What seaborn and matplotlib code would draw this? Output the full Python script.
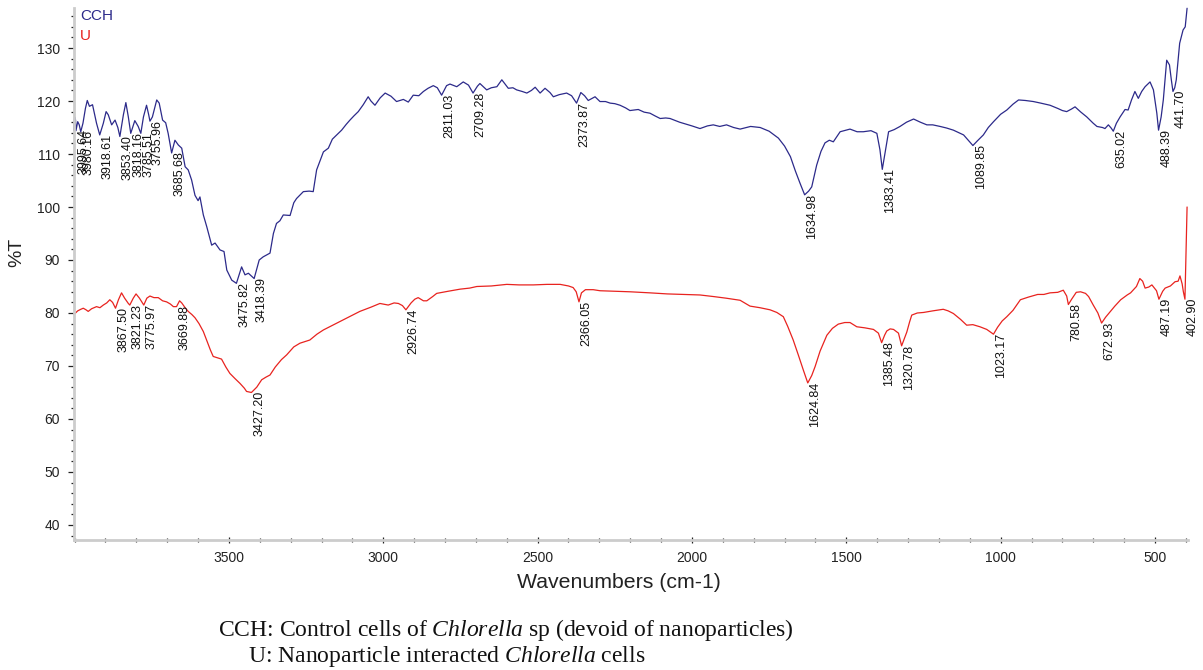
import numpy as np
import pandas as pd
import matplotlib
matplotlib.use("Agg")
import matplotlib.pyplot as plt
from matplotlib.ticker import MultipleLocator
import seaborn as sns

# FTIR transmittance spectra (%T vs wavenumber, cm-1)
cch_wn = [4003, 4000, 3997, 3995.64, 3990, 3985, 3980.16, 3973, 3965, 3959, 3952, 3942, 3929,
          3918.61, 3907, 3898, 3891, 3880, 3869, 3860, 3853.40, 3842, 3834, 3826, 3818.16, 3805,
          3794, 3785.51, 3777, 3767, 3760, 3755.96, 3748, 3734, 3726, 3715, 3705, 3697, 3685.68,
          3675, 3664, 3653, 3642, 3632, 3621, 3610, 3600, 3594, 3583, 3572, 3556, 3545, 3529,
          3516, 3507, 3491, 3475.82, 3459, 3448, 3437, 3418.39, 3402, 3389, 3367, 3356, 3346,
          3335, 3324, 3302, 3290, 3281, 3259, 3240, 3227, 3216, 3194, 3178, 3165, 3151, 3135,
          3120, 3108, 3095, 3081, 3065, 3049, 3040, 3027, 3010, 2994, 2975, 2957, 2935, 2919,
          2903, 2885, 2870, 2855, 2838, 2825, 2811.03, 2795, 2784, 2762, 2741, 2724, 2709.28,
          2695, 2687, 2665, 2650, 2632, 2616, 2595, 2580, 2568, 2550, 2535, 2520, 2508, 2492,
          2476, 2460, 2449, 2430, 2406, 2390, 2373.87, 2360, 2348, 2336, 2314, 2298, 2280, 2265,
          2250, 2233, 2215, 2201, 2174, 2155, 2136, 2120, 2103, 2085, 2071, 2040, 2000, 1974,
          1950, 1931, 1910, 1888, 1865, 1844, 1810, 1779, 1750, 1720, 1700, 1681, 1665, 1650,
          1634.98, 1622, 1612, 1596, 1582, 1569, 1555, 1542, 1520, 1500, 1488, 1465, 1445, 1420,
          1401, 1391, 1383.41, 1375, 1371, 1363, 1345, 1326, 1305, 1282, 1260, 1239, 1220, 1196,
          1175, 1153, 1135, 1120, 1105, 1089.85, 1075, 1056, 1040, 1023, 1000, 980, 960, 942,
          920, 894, 870, 840, 815, 800, 786, 770, 759, 740, 721, 700, 688, 670, 662, 651, 642,
          635.02, 625, 613, 597, 587, 576, 565, 554, 543, 532, 516, 505, 494, 488.39, 480, 473,
          466, 462, 453, 447, 441.70, 436, 431, 420, 409, 402, 396]
cch_t = [114.5, 117.0, 116.4, 114.4, 116.1, 115.5, 114.2, 115.8, 118.6, 120.1, 119.0, 119.3, 115.8,
         113.6, 115.8, 118.0, 117.4, 115.5, 116.4, 115.0, 113.3, 117.4, 119.7, 117.0, 113.9, 116.3,
         115.2, 113.9, 117.0, 119.2, 117.4, 116.2, 117.0, 120.2, 119.6, 116.4, 115.9, 113.9, 110.2,
         112.6, 111.7, 111.1, 107.6, 107.0, 105.1, 102.2, 101.2, 101.9, 98.5, 96.3, 92.8, 93.2, 91.9,
         91.6, 88.1, 86.2, 85.6, 88.7, 87.2, 87.5, 86.5, 90.0, 90.6, 91.3, 95.0, 96.9,
         97.4, 98.5, 98.4, 100.8, 101.6, 102.9, 103.0, 102.9, 107.0, 110.4, 111.1, 112.8, 113.6, 114.5,
         115.6, 116.4, 117.2, 118.0, 119.3, 120.8, 120.0, 119.2, 120.6, 121.5, 120.9, 119.9, 120.3, 119.8,
         121.1, 121.0, 121.8, 122.4, 122.9, 122.5, 121.1, 122.9, 123.2, 122.7, 123.6, 123.0, 121.5,
         122.8, 123.3, 122.1, 122.5, 122.7, 124.0, 122.4, 122.5, 122.1, 121.8, 121.5, 122.0, 122.6, 121.5,
         122.4, 121.6, 120.8, 121.2, 121.5, 121.0, 119.6, 121.6, 121.0, 120.1, 120.8, 119.9, 119.9, 119.6,
         119.5, 119.2, 118.7, 118.2, 118.4, 117.9, 117.7, 117.2, 116.7, 116.8, 116.7, 116.0, 115.3, 114.8,
         115.3, 115.5, 115.2, 115.5, 115.0, 114.7, 115.2, 115.0, 114.3, 113.0, 111.5, 109.5, 106.8, 104.5,
         102.3, 103.0, 103.8, 107.9, 110.5, 112.1, 112.6, 112.3, 114.2, 114.5, 114.7, 114.2, 114.2, 114.4,
         113.9, 110.8, 107.1, 110.0, 111.5, 114.2, 114.6, 115.2, 116.0, 116.6, 116.0, 115.5, 115.5, 115.2,
         114.9, 114.5, 114.0, 113.6, 112.6, 111.6, 112.5, 113.6, 115.0, 116.1, 117.5, 118.3, 119.4, 120.2,
         120.1, 119.9, 119.6, 119.2, 118.6, 118.2, 118.0, 118.5, 118.9, 117.9, 117.0, 115.8, 115.2, 115.0,
         114.8, 115.5, 114.9,
         114.3, 115.8, 117.0, 118.4, 118.3, 120.2, 121.8, 120.5, 121.8, 122.7, 123.6, 122.1, 117.7, 114.5,
         117.0, 120.2, 125.0, 127.7, 126.8, 124.0, 121.8, 122.5, 124.0, 130.9, 133.4, 134.0, 137.5]

u_wn = [4003, 3999, 3990, 3980, 3972, 3963, 3956, 3945, 3929, 3918, 3907, 3896, 3886, 3877, 3867.50,
        3858, 3848, 3838, 3826, 3821.23, 3810, 3801, 3790, 3775.97, 3766, 3756, 3743, 3729, 3715,
        3702, 3690, 3680, 3669.88, 3660, 3653, 3642, 3632, 3620, 3610, 3597, 3583, 3570, 3560, 3551,
        3540, 3524, 3510, 3497, 3480, 3464, 3450, 3443, 3427.20, 3410, 3394, 3380, 3367, 3350, 3330,
        3313, 3290, 3270, 3238, 3215, 3194, 3160, 3130, 3100, 3076, 3040, 3011, 2984, 2965, 2951,
        2938, 2926.74, 2910, 2898, 2887, 2870, 2859, 2840, 2827, 2790, 2751, 2720, 2697, 2650, 2600,
        2560, 2514, 2470, 2427, 2400, 2385, 2375, 2366.05, 2358, 2345, 2320, 2298, 2250, 2200, 2136,
        2080, 2030, 1974, 1930, 1890, 1844, 1812, 1780, 1747, 1725, 1704, 1690, 1672, 1655, 1639,
        1624.84, 1612, 1601, 1585, 1563, 1545, 1526, 1505, 1488, 1466, 1440, 1412, 1396, 1385.48,
        1376, 1369, 1358, 1347, 1331, 1320.78, 1310, 1304, 1295, 1288, 1270, 1250, 1220, 1186, 1170,
        1153, 1130, 1110, 1090, 1067, 1045, 1023.17, 1010, 995, 980, 960, 936, 910, 880, 860, 840,
        815, 797, 786, 780.58, 770, 755, 741, 725, 715, 700, 685, 672.93, 660, 650, 630, 611, 590,
        579, 560, 549, 540, 532, 520, 510, 495, 487.19, 475, 467, 450, 435, 425, 419, 412, 408,
        402.90, 396]
u_t = [79.8, 79.9, 80.4, 80.7, 80.9, 80.6, 80.3, 80.8, 81.2, 81.0, 81.5, 81.9, 82.5, 82.0, 80.9,
       82.5, 83.8, 82.8, 81.8, 81.5, 82.8, 83.6, 82.8, 81.5, 82.8, 83.2, 82.9, 82.9, 82.3,
       82.1, 81.7, 81.2, 81.2, 82.3, 81.9, 81.0, 80.3, 79.7, 79.1, 78.0, 76.5, 74.5, 73.0, 71.8,
       71.6, 71.3, 69.8, 68.6, 67.6, 66.7, 65.8, 65.2, 65.0, 66.0, 67.4, 67.9, 68.3, 69.8, 71.2,
       72.1, 73.6, 74.3, 74.9, 76.0, 76.8, 77.8, 78.7, 79.6, 80.3, 81.1, 81.8, 81.5, 81.9, 81.8,
       81.4, 80.6, 81.9, 82.6, 82.9, 82.3, 82.3, 83.1, 83.7, 84.1, 84.5, 84.7, 85.0, 85.1, 85.4,
       85.3, 85.3, 85.4, 85.4, 85.1, 84.8, 84.0, 82.1, 83.8, 84.4, 84.4, 84.2, 84.1, 84.0, 83.8,
       83.6, 83.5, 83.4, 83.1, 82.8, 82.4, 81.3, 81.0, 80.6, 80.1, 79.3, 77.5, 74.9, 72.0, 69.2,
       66.8, 68.2, 69.9, 72.8, 75.8, 77.1, 77.9, 78.2, 78.2, 77.4, 77.2, 76.9, 76.2, 74.4,
       75.8, 76.6, 77.0, 76.9, 76.2, 73.8, 75.5, 76.4, 78.3, 79.6, 80.0, 80.1, 80.4, 80.7, 80.4,
       79.9, 78.8, 77.7, 77.8, 77.4, 76.9, 76.0, 77.3, 78.5, 79.3, 80.5, 82.5, 83.0, 83.5, 83.5, 83.8,
       83.9, 84.3, 83.2, 81.6, 82.6, 83.9, 84.0, 83.7, 83.1, 81.5, 80.0, 78.1, 79.2, 79.9, 81.3, 82.5, 83.4,
       83.8, 85.0, 86.5, 86.0, 84.7, 84.9, 85.3, 84.2, 82.6, 84.1, 84.7, 85.1, 85.9, 86.0, 87.0, 85.5, 84.0,
       82.6, 100.0]

# Peak labels (wavenumbers of marked bands)
cch_peaks = [3995.64, 3980.16, 3918.61, 3853.40, 3818.16, 3785.51, 3755.96, 3685.68, 3475.82,
             3418.39, 2811.03, 2709.28, 2373.87, 1634.98, 1383.41, 1089.85, 635.02, 488.39, 441.70]
u_peaks = [3867.50, 3821.23, 3775.97, 3669.88, 3427.20, 2926.74, 2366.05, 1624.84, 1385.48,
           1320.78, 1023.17, 780.58, 672.93, 487.19, 402.90]

series_names = ["CCH", "U"]
series_colors = ["#2c2a8a", "#e8231f"]
caption_lines = [r"CCH: Control cells of $\mathit{Chlorella}$ sp (devoid of nanoparticles)",
                 r"U: Nanoparticle interacted $\mathit{Chlorella}$ cells"]

sns.set_style("white")
plt.rcParams["font.family"] = ["Liberation Sans", "DejaVu Sans"]
plt.rcParams["mathtext.fontset"] = "custom"
plt.rcParams["mathtext.rm"] = "Liberation Serif"
plt.rcParams["mathtext.it"] = "Liberation Serif:italic"

fig = plt.figure(figsize=(12.03, 6.70), dpi=100)
ax = fig.add_axes([74 / 1203, 1 - 539.5 / 670, 1114 / 1203, 531.5 / 670])

df_cch = pd.DataFrame({"wn": cch_wn, "T": cch_t})
df_u = pd.DataFrame({"wn": u_wn, "T": u_t})
sns.lineplot(data=df_cch, x="wn", y="T", sort=False, estimator=None, color=series_colors[0],
             lw=0.9, ax=ax, clip_on=False)
sns.lineplot(data=df_u, x="wn", y="T", sort=False, estimator=None, color=series_colors[1],
             lw=0.9, ax=ax, clip_on=False)

ax.set_xlim(4002, 393)
ax.set_ylim(37.26, 137.55)
ax.set_xlabel("")
ax.set_ylabel("")

ax.set_xticks([3500, 3000, 2500, 2000, 1500, 1000, 500])
ax.set_yticks(list(range(40, 131, 10)))
ax.xaxis.set_minor_locator(MultipleLocator(100))
ax.yaxis.set_minor_locator(MultipleLocator(2))

for side in ["top", "right"]:
    ax.spines[side].set_visible(False)
for side in ["left", "bottom"]:
    ax.spines[side].set_color("#cccccc")
    ax.spines[side].set_linewidth(2.0)

ax.tick_params(which="both", bottom=True, left=True, top=False, right=False)
ax.tick_params(axis="y", which="major", direction="out", length=4, width=0.9, color="#222222",
               labelsize=10, pad=6, labelcolor="#222222")
ax.tick_params(axis="y", which="minor", direction="out", length=2.5, width=0.9, color="#222222")
ax.tick_params(axis="x", which="major", direction="inout", length=5, width=0.9, color="#222222",
               labelsize=10, pad=6, labelcolor="#222222")
ax.tick_params(axis="x", which="minor", direction="inout", length=3, width=0.9, color="#222222")


def label_peaks(wn, t, peaks):
    order = np.argsort(wn)
    xs = np.asarray(wn)[order]
    ys = np.asarray(t)[order]
    for p in peaks:
        yv = float(np.interp(p, xs, ys))
        ax.annotate(f"{p:.2f}", xy=(p, yv), xytext=(1.2, 1.0), textcoords="offset points",
                    rotation=90, ha="left", va="top", fontsize=9, color="#111111",
                    annotation_clip=False)


label_peaks(cch_wn, cch_t, cch_peaks)
label_peaks(u_wn, u_t, u_peaks)

# Series names in the upper-left corner
fig.text(80 / 1203, 1 - 9 / 670, series_names[0], color=series_colors[0], fontsize=11,
         ha="left", va="top")
fig.text(80 / 1203, 1 - 29 / 670, series_names[1], color=series_colors[1], fontsize=11,
         ha="left", va="top")

fig.text(619 / 1203, 1 - 583 / 670, "Wavenumbers (cm-1)", fontsize=15.3, ha="center",
         va="center", color="#222222")
fig.text(17 / 1203, 1 - 252 / 670, "%T", fontsize=14, rotation=90, ha="center", va="center",
         color="#222222")

fig.text(218 / 1203, 1 - 636 / 670, caption_lines[0], fontsize=17, ha="left", va="baseline",
         family="Liberation Serif", color="#111111")
fig.text(248 / 1203, 1 - 662 / 670, caption_lines[1], fontsize=17, ha="left", va="baseline",
         family="Liberation Serif", color="#111111")

fig.savefig("out.png", dpi=100)
